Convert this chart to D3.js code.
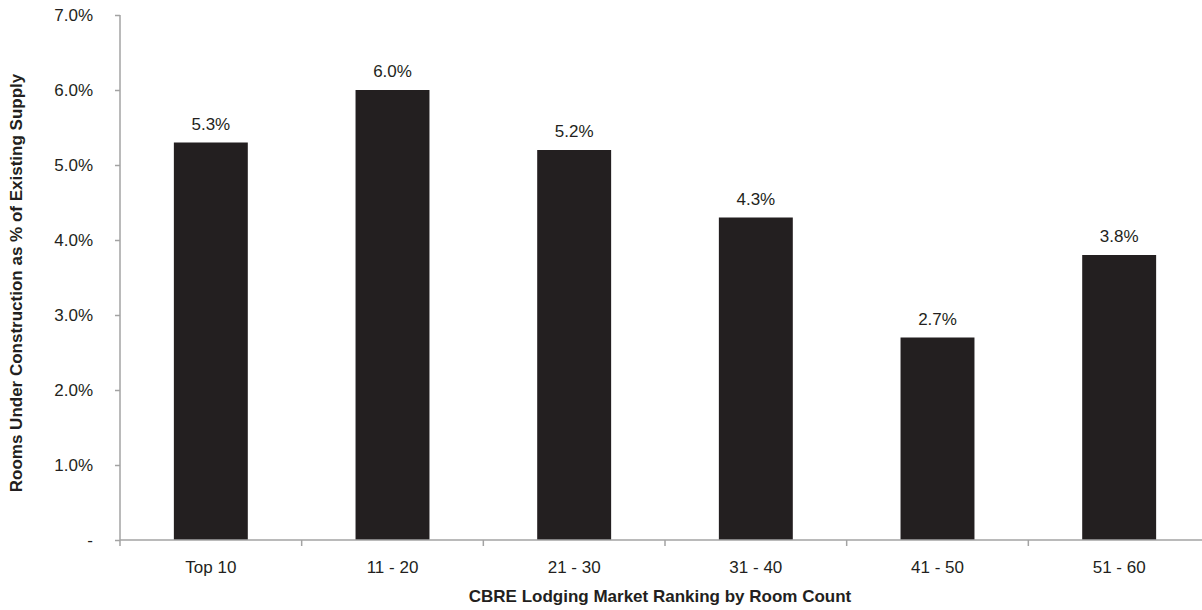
<!DOCTYPE html>
<html>
<head>
<meta charset="utf-8">
<script src="https://cdn.jsdelivr.net/npm/d3@7"></script>
<style>
  html, body { margin: 0; padding: 0; background: #fff; }
  svg { display: block; font-family: "Liberation Sans", Arial, Helvetica, sans-serif; }
</style>
</head>
<body>
<svg id="chart" width="1202" height="610"></svg>
<script>
const categories = ["Top 10", "11 - 20", "21 - 30", "31 - 40", "41 - 50", "51 - 60"];
const values = [5.3, 6.0, 5.2, 4.3, 2.7, 3.8];
const yTicks = [0, 1, 2, 3, 4, 5, 6, 7];
const yTitle = "Rooms Under Construction as % of Existing Supply";
const xTitle = "CBRE Lodging Market Ranking by Room Count";

const svg = d3.select("#chart");
const mLeft = 120, mRight = 1210, mTop = 15, mBottom = 540;
const axisColor = "#a3a3a3";
const textColor = "#231f20";

const x = d3.scaleBand().domain(categories).range([mLeft, mRight])
  .paddingInner(0.593).paddingOuter(0.2965);
const xb = d3.scaleBand().domain(categories).range([mLeft, mRight]).padding(0);
const y = d3.scaleLinear().domain([0, 7]).range([mBottom, mTop]);

// bars
svg.append("g").selectAll("rect").data(values).join("rect")
  .attr("x", (d, i) => x(categories[i]))
  .attr("width", x.bandwidth())
  .attr("y", d => y(d))
  .attr("height", d => y(0) - y(d))
  .attr("fill", "#231f20");

// value labels
svg.append("g").selectAll("text").data(values).join("text")
  .attr("x", (d, i) => x(categories[i]) + x.bandwidth() / 2)
  .attr("y", d => y(d) - 13)
  .attr("text-anchor", "middle")
  .attr("font-size", 17)
  .attr("fill", textColor)
  .text(d => d3.format(".1f")(d) + "%");

// y axis
const yAxis = svg.append("g").attr("transform", `translate(${mLeft},0)`)
  .call(d3.axisLeft(y).tickValues(yTicks).tickSize(5).tickPadding(22)
    .tickFormat(v => v === 0 ? "-" : d3.format(".1f")(v) + "%"));
yAxis.select(".domain").attr("stroke", axisColor).attr("stroke-width", 1.5)
  .attr("d", `M0,${mTop}V${mBottom}`);
yAxis.selectAll(".tick line").attr("stroke", axisColor).attr("stroke-width", 1.5);
yAxis.selectAll(".tick text").attr("font-size", 17).attr("fill", textColor)
  .attr("font-family", "Liberation Sans, Arial, sans-serif");

// x axis labels
const xAxis = svg.append("g").attr("transform", `translate(0,${mBottom})`)
  .call(d3.axisBottom(x).tickSize(0).tickPadding(21));
xAxis.select(".domain").remove();
xAxis.selectAll(".tick text").attr("font-size", 17).attr("fill", textColor)
  .attr("font-family", "Liberation Sans, Arial, sans-serif");

// x axis line and boundary ticks
svg.append("line").attr("x1", mLeft).attr("x2", mRight).attr("y1", mBottom).attr("y2", mBottom)
  .attr("stroke", axisColor).attr("stroke-width", 1.5);
const bounds = categories.map(c => xb(c)).concat([xb.range()[1]]);
svg.append("g").selectAll("line").data(bounds).join("line")
  .attr("x1", d => d).attr("x2", d => d)
  .attr("y1", mBottom).attr("y2", mBottom + 6)
  .attr("stroke", axisColor).attr("stroke-width", 1.5);

// titles
svg.append("text")
  .attr("transform", `translate(22,283) rotate(-90)`)
  .attr("text-anchor", "middle")
  .attr("font-size", 17).attr("font-weight", "bold").attr("fill", textColor)
  .text(yTitle);
svg.append("text")
  .attr("x", 660).attr("y", 602)
  .attr("text-anchor", "middle")
  .attr("font-size", 17).attr("font-weight", "bold").attr("fill", textColor)
  .text(xTitle);
</script>
</body>
</html>
